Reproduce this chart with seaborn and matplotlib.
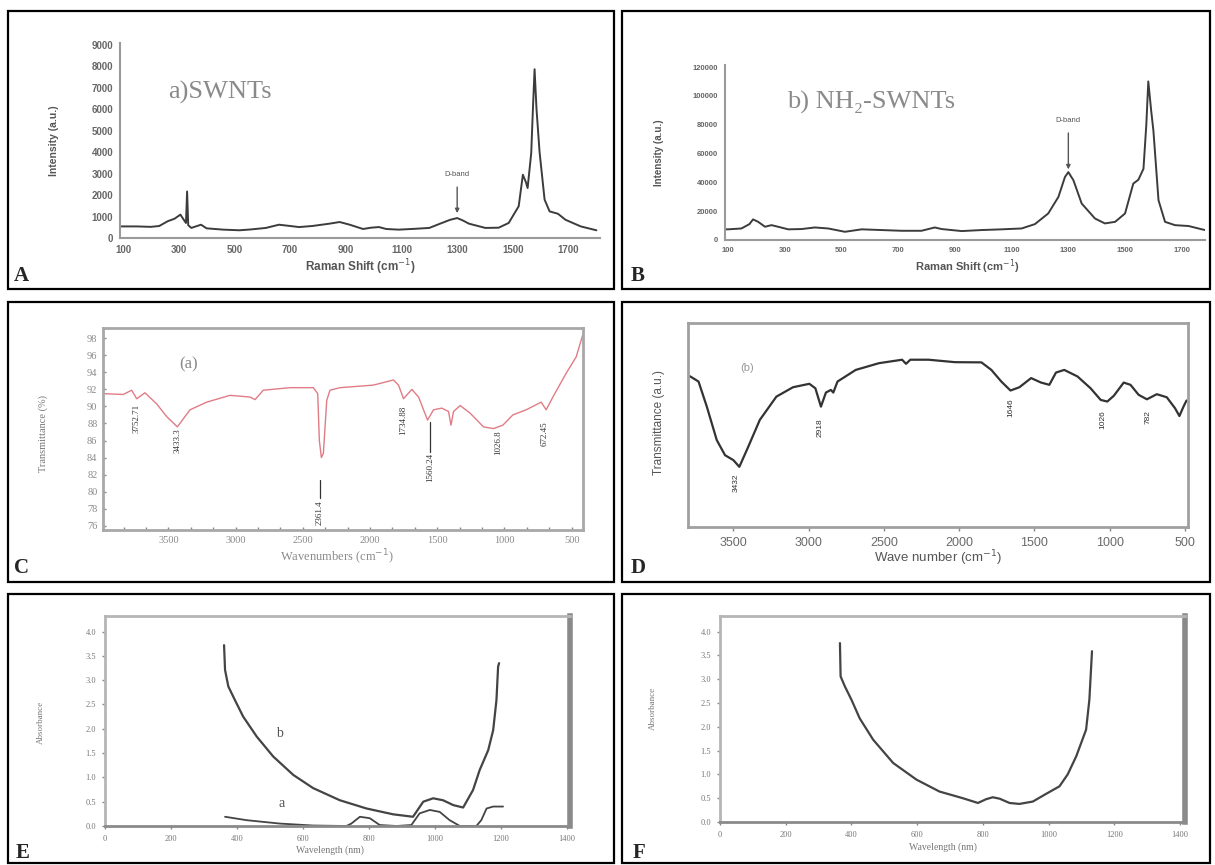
import numpy as np
import seaborn as sns
import matplotlib
matplotlib.use('Agg')
import matplotlib.pyplot as plt
from matplotlib.patches import Rectangle
from matplotlib.ticker import AutoMinorLocator

W, H = 1215, 865

## Panel A: Raman spectrum of SWNTs
raman_a_shift = [89, 150, 200, 230, 260, 285, 306, 318, 326, 330, 334, 345, 380, 400, 460, 518,
                 560, 613, 660, 700, 732, 780, 842, 878, 914, 962, 990, 1019, 1045, 1090, 1150,
                 1200, 1245, 1275, 1300, 1320, 1342, 1401, 1449, 1485, 1521, 1536, 1547, 1553,
                 1566, 1572, 1578, 1585, 1596, 1614, 1632, 1662, 1689, 1744, 1800]
raman_a_int = [540, 540, 520, 560, 780, 900, 1090, 850, 700, 2170, 600, 470, 620, 450, 390, 360,
               400, 470, 620, 560, 510, 560, 670, 745, 620, 420, 480, 510, 420, 390, 430,
               470, 700, 850, 930, 820, 670, 470, 480, 700, 1480, 2950, 2600, 2330,
               3960, 6000, 7870, 6000, 4000, 1790, 1240, 1130, 850, 540, 360]
raman_a_ticks_x = [100, 300, 500, 700, 900, 1100, 1300, 1500, 1700]
raman_a_ticks_y = [0, 1000, 2000, 3000, 4000, 5000, 6000, 7000, 8000, 9000]

## Panel B: Raman spectrum of NH2-SWNTs
raman_b_shift = [89, 100, 147, 175, 188, 206, 230, 253, 276, 312, 359, 406, 453, 512, 571, 641,
                 712, 782, 829, 853, 924, 994, 1065, 1135, 1182, 1229, 1265, 1288, 1300, 1318,
                 1347, 1394, 1429, 1465, 1500, 1529, 1547, 1565, 1575, 1582, 1592, 1600, 1618,
                 1641, 1676, 1724, 1771, 1785]
raman_b_int = [7400, 7400, 8000, 11000, 14300, 12600, 9200, 10300, 9200, 7400, 7600, 8700, 8000,
               5700, 7400, 6900, 6400, 6400, 8700, 7600, 6200, 6900, 7400, 8000, 11000, 18400,
               29900, 43700, 47100, 41400, 25300, 14900, 11500, 12600, 18400, 39100, 41800,
               49400, 80000, 110000, 90000, 75900, 27600, 12600, 10300, 9700, 7400, 6800]
raman_b_ticks_y = [0, 20000, 40000, 60000, 80000, 100000, 120000]

## Panel C: FTIR of SWNTs (a)
ftir_a_wn = [3986, 3835, 3773, 3735, 3674, 3587, 3512, 3433, 3339, 3215, 3041, 2893, 2855, 2794,
             2595, 2422, 2389, 2377, 2362, 2347, 2322, 2298, 2223, 1975, 1826, 1788, 1751, 1689,
             1639, 1602, 1572, 1528, 1466, 1416, 1398, 1379, 1329, 1255, 1156, 1082, 1012, 938,
             839, 727, 690, 640, 541, 467, 416]
ftir_a_t = [91.5, 91.4, 91.9, 90.9, 91.6, 90.3, 88.8, 87.6, 89.6, 90.5, 91.3, 91.1, 90.8, 91.9,
            92.2, 92.2, 91.5, 86.0, 84.0, 84.5, 90.7, 91.9, 92.2, 92.5, 93.1, 92.5, 90.9, 92.0,
            91.1, 89.6, 88.4, 89.6, 89.8, 89.4, 87.8, 89.4, 90.1, 89.2, 87.6, 87.4, 87.8, 89.0,
            89.6, 90.5, 89.6, 91.1, 93.9, 95.8, 98.5]
ftir_a_ticks_x = [3500, 3000, 2500, 2000, 1500, 1000, 500]
ftir_a_ticks_y = [76, 78, 80, 82, 84, 86, 88, 90, 92, 94, 96, 98]
ftir_a_peaks = ['3752.71', '3433.3', '2361.4', '1734.88', '1560.24', '1026.8', '672.45']
ftir_a_peak_x = [3735, 3433, 2372, 1752, 1554, 1046, 699]
ftir_a_peak_top = [90.3, 87.4, 79.0, 90.1, 84.5, 87.2, 88.2]

## Panel D: FTIR of NH2-SWNTs (b)
ftir_b_wn = [3801, 3786, 3731, 3676, 3610, 3555, 3500, 3460, 3401, 3324, 3214, 3104, 2995, 2955,
             2918, 2885, 2852, 2836, 2808, 2687, 2533, 2379, 2353, 2324, 2203, 2028, 1852, 1786,
             1720, 1659, 1600, 1522, 1456, 1401, 1357, 1302, 1214, 1127, 1060, 1016, 973, 907,
             862, 808, 753, 687, 621, 566, 537, 510, 490]
ftir_b_t = [74.0, 73.8, 71.3, 59.0, 42.6, 35.2, 32.8, 29.5, 39.3, 52.5, 63.9, 68.5, 70.2, 68.0,
            59.0, 65.9, 67.2, 65.9, 71.3, 77.0, 80.3, 82.0, 80.0, 82.0, 82.0, 80.8, 80.7, 77.0,
            71.3, 66.9, 68.5, 73.0, 70.8, 69.7, 75.7, 77.0, 73.8, 68.0, 62.3, 61.5, 64.3, 70.8,
            69.7, 64.8, 62.6, 65.1, 63.6, 58.2, 54.4, 59.0, 62.0]
ftir_b_ticks_x = [3500, 3000, 2500, 2000, 1500, 1000, 500]
ftir_b_peaks = ['3432', '2918', '1646', '1026', '782']
ftir_b_peak_x = [3478, 2922, 1658, 1043, 742]
ftir_b_peak_top = [26.2, 53.3, 63.1, 57.4, 57.4]

## Panel E: UV-vis-NIR, curves a and b
uv_b_nm = [361, 364, 374, 394, 419, 460, 510, 571, 631, 712, 793, 874, 934, 944, 965, 995, 1025,
           1056, 1086, 1116, 1136, 1162, 1177, 1187, 1192, 1195]
uv_b_abs = [3.72, 3.21, 2.87, 2.59, 2.25, 1.84, 1.43, 1.05, 0.78, 0.53, 0.36, 0.24, 0.19, 0.29,
            0.50, 0.57, 0.53, 0.43, 0.38, 0.74, 1.15, 1.56, 1.97, 2.59, 3.28, 3.35]
uv_a_nm = [364, 429, 530, 631, 732, 747, 773, 803, 833, 884, 929, 954, 985, 1015, 1045, 1076,
           1126, 1141, 1157, 1177, 1207]
uv_a_abs = [0.19, 0.12, 0.05, 0.01, 0.0, 0.05, 0.19, 0.16, 0.02, 0.0, 0.02, 0.26, 0.33, 0.29,
            0.12, 0.0, 0.0, 0.12, 0.36, 0.40, 0.40]
uv_ticks_x = [0, 200, 400, 600, 800, 1000, 1200, 1400]
uv_ticks_y = [0.0, 0.5, 1.0, 1.5, 2.0, 2.5, 3.0, 3.5, 4.0]

## Panel F: UV-vis-NIR, single curve
uv_f_nm = [365, 367, 380, 400, 425, 466, 527, 598, 668, 739, 785, 810, 830, 851, 881, 911, 952,
           992, 1033, 1058, 1084, 1114, 1124, 1132]
uv_f_abs = [3.76, 3.06, 2.85, 2.57, 2.18, 1.73, 1.24, 0.89, 0.64, 0.50, 0.40, 0.48, 0.52, 0.49,
            0.40, 0.38, 0.43, 0.59, 0.75, 1.00, 1.38, 1.94, 2.57, 3.59]

SERIF = ['Liberation Serif', 'DejaVu Serif']
SANS = ['Liberation Sans', 'DejaVu Sans']

sns.set_theme(style='white')
plt.rcParams['font.family'] = SANS

fig = plt.figure(figsize=(W / 100, H / 100), dpi=100)


def axes_px(left, top, right, bottom):
    return fig.add_axes([left / W, 1 - bottom / H, (right - left) / W, (bottom - top) / H])


def label_font(ax, family, size, color, weight='normal'):
    for t in ax.get_xticklabels() + ax.get_yticklabels():
        t.set_family(family)
        t.set_fontsize(size)
        t.set_color(color)
        t.set_fontweight(weight)


## panel frames and letters
boxes = [(8, 11, 614, 289), (622, 11, 1210, 289), (8, 302, 614, 582),
         (622, 302, 1210, 582), (8, 594, 614, 863), (622, 594, 1210, 863)]
letters = ['A', 'B', 'C', 'D', 'E', 'F']
letter_pos = [(14, 281), (631, 281), (14, 573), (631, 573), (16, 858), (633, 858)]
for (l, t, r, b), letter, (lx, ly) in zip(boxes, letters, letter_pos):
    fig.add_artist(Rectangle((l / W, 1 - b / H), (r - l) / W, (b - t) / H, fill=False,
                             edgecolor='black', linewidth=1.6, transform=fig.transFigure))
    fig.text(lx / W, 1 - ly / H, letter, family=SERIF, fontsize=15, fontweight='bold',
             va='baseline', ha='left')

## --- A ---
ax = axes_px(120, 43, 600, 238)
sns.lineplot(x=raman_a_shift, y=raman_a_int, ax=ax, color='#3c3c3c', lw=1.4,
             sort=False, estimator=None)
ax.set_xlim(89, 1813)
ax.set_ylim(0, 9093)
ax.set_xticks(raman_a_ticks_x)
ax.set_yticks(raman_a_ticks_y)
sns.despine(ax=ax)
for s in ['left', 'bottom']:
    ax.spines[s].set_color('#9a9a9a')
    ax.spines[s].set_linewidth(1.5)
ax.tick_params(length=2, width=1, color='#9a9a9a', pad=3)
label_font(ax, SANS, 7, '#666666', 'bold')
ax.set_xlabel('Raman Shift (cm$^{-1}$)', fontsize=8.5, fontweight='bold', color='#555555', va='center')
ax.set_ylabel('Intensity (a.u.)', fontsize=7.5, fontweight='bold', color='#555555', va='center')
ax.xaxis.set_label_coords(0.5, -0.149)
ax.yaxis.set_label_coords(-0.1375, 0.5)
ax.text(262, 6800, 'a)SWNTs', family=SERIF, fontsize=19, color='#8a8a8a', va='center')
ax.annotate('D-band', xy=(1300, 1160), xytext=(1300, 2950), ha='center', va='center',
            fontsize=5.5, color='#555555',
            arrowprops=dict(arrowstyle='-|>', color='#555555', lw=1, mutation_scale=6,
                            shrinkA=4, shrinkB=0))

## --- B ---
ax = axes_px(725, 65, 1205, 240)
sns.lineplot(x=raman_b_shift, y=raman_b_int, ax=ax, color='#3c3c3c', lw=1.4,
             sort=False, estimator=None)
ax.set_xlim(89, 1782)
ax.set_ylim(0, 121400)
ax.set_xticks(raman_a_ticks_x)
ax.set_yticks(raman_b_ticks_y)
sns.despine(ax=ax)
for s in ['left', 'bottom']:
    ax.spines[s].set_color('#9a9a9a')
    ax.spines[s].set_linewidth(1.5)
ax.tick_params(length=2, width=1, color='#9a9a9a', pad=3)
label_font(ax, SANS, 5.5, '#666666', 'bold')
ax.set_xlabel('Raman Shift (cm$^{-1}$)', fontsize=8, fontweight='bold', color='#555555', va='center')
ax.set_ylabel('Intensity (a.u.)', fontsize=7, fontweight='bold', color='#555555', va='center')
ax.xaxis.set_label_coords(0.504, -0.154)
ax.yaxis.set_label_coords(-0.1375, 0.5)
ax.text(308, 95700, 'b) NH\u2082-SWNTs', family=SERIF, fontsize=19, color='#8a8a8a', va='center')
ax.annotate('D-band', xy=(1300, 49000), xytext=(1300, 82800), ha='center', va='center',
            fontsize=5.5, color='#555555',
            arrowprops=dict(arrowstyle='-|>', color='#555555', lw=1, mutation_scale=6,
                            shrinkA=4, shrinkB=0))

## --- C ---
ax = axes_px(103, 328, 583, 530)
sns.lineplot(x=ftir_a_wn, y=ftir_a_t, ax=ax, color='#e07c86', lw=1.0,
             sort=False, estimator=None)
ax.set_xlim(3986, 416)
ax.set_ylim(75.5, 99.2)
ax.set_xticks(ftir_a_ticks_x)
ax.set_yticks(ftir_a_ticks_y)
ax.xaxis.set_minor_locator(AutoMinorLocator(3))
for s in ax.spines.values():
    s.set_color('#a8a8a8')
    s.set_linewidth(2)
ax.tick_params(which='both', direction='in', length=2, width=1, color='#888888', pad=4,
               bottom=True, left=True)
label_font(ax, SERIF, 7.5, '#8a8a8a')
ax.set_xlabel('Wavenumbers (cm$^{-1}$)', family=SERIF, fontsize=9, color='#8a8a8a', va='center')
ax.set_ylabel('Transmittance (%)', family=SERIF, fontsize=7.5, color='#777777', va='center')
ax.xaxis.set_label_coords(0.4875, -0.134)
ax.yaxis.set_label_coords(-0.125, 0.48)
ax.text(3346, 94.9, '(a)', family=SERIF, fontsize=12, color='#8a8a8a', ha='center', va='center')
for lab, px, top in zip(ftir_a_peaks, ftir_a_peak_x, ftir_a_peak_top):
    ax.text(px, top, lab, rotation=90, ha='center', va='top', family=SERIF, fontsize=6.5,
            color='#333333')
ax.plot([2372, 2372], [81.4, 79.2], color='#333333', lw=0.9)
ax.plot([1554, 1554], [88.2, 84.7], color='#333333', lw=0.9)

## --- D ---
ax = axes_px(688, 323, 1188, 527)
sns.lineplot(x=ftir_b_wn, y=ftir_b_t, ax=ax, color='#333333', lw=1.6,
             sort=False, estimator=None)
ax.set_xlim(3801, 480)
ax.set_ylim(0, 100)
ax.set_xticks(ftir_b_ticks_x)
ax.set_yticks([])
for s in ax.spines.values():
    s.set_color('#a0a0a0')
    s.set_linewidth(2)
ax.tick_params(axis='x', direction='out', length=3, width=1, color='#888888', pad=4, bottom=True)
label_font(ax, SANS, 9, '#6a6a6a')
ax.set_xlabel('Wave number (cm$^{-1}$)', fontsize=9.5, color='#555555', va='center')
ax.set_ylabel('Transmittance (a.u.)', fontsize=8.5, color='#555555', va='center')
ax.xaxis.set_label_coords(0.5, -0.152)
ax.yaxis.set_label_coords(-0.058, 0.51)
ax.text(3409, 78, '(b)', fontsize=8, color='#999999', ha='center', va='center')
for lab, px, top in zip(ftir_b_peaks, ftir_b_peak_x, ftir_b_peak_top):
    ax.text(px, top, lab, rotation=90, ha='center', va='top', fontsize=6, color='#333333')

## --- E ---
ax = axes_px(105, 616, 570, 826)
sns.lineplot(x=uv_b_nm, y=uv_b_abs, ax=ax, color='#444444', lw=1.6, sort=False, estimator=None)
sns.lineplot(x=uv_a_nm, y=uv_a_abs, ax=ax, color='#444444', lw=1.3, sort=False, estimator=None)
ax.set_xlim(0, 1410)
ax.set_ylim(0, 4.32)
ax.set_xticks(uv_ticks_x)
ax.set_yticks(uv_ticks_y)
ax.set_yticklabels([f'{v:.1f}' for v in uv_ticks_y])
for s in ax.spines.values():
    s.set_color('#b5b5b5')
    s.set_linewidth(2)
ax.spines['bottom'].set_color('#8a8a8a')
ax.spines['right'].set_color('#8a8a8a')
ax.spines['right'].set_linewidth(4)
ax.tick_params(direction='out', length=2.5, width=1, color='#888888', pad=4, bottom=True, left=True)
label_font(ax, SERIF, 6, '#777777')
ax.set_xlabel('Wavelength (nm)', family=SERIF, fontsize=7, color='#777777', va='center')
ax.set_ylabel('Absorbance', family=SERIF, fontsize=6.5, color='#777777', va='center')
ax.xaxis.set_label_coords(0.484, -0.114)
ax.yaxis.set_label_coords(-0.138, 0.495)
ax.text(530, 1.9, 'b', family=SERIF, fontsize=10, color='#555555', ha='center', va='center')
ax.text(535, 0.47, 'a', family=SERIF, fontsize=10, color='#555555', ha='center', va='center')

## --- F ---
ax = axes_px(720, 616, 1185, 822)
sns.lineplot(x=uv_f_nm, y=uv_f_abs, ax=ax, color='#444444', lw=1.6, sort=False, estimator=None)
ax.set_xlim(0, 1415)
ax.set_ylim(0, 4.33)
ax.set_xticks(uv_ticks_x)
ax.set_yticks(uv_ticks_y)
ax.set_yticklabels([f'{v:.1f}' for v in uv_ticks_y])
for s in ax.spines.values():
    s.set_color('#b5b5b5')
    s.set_linewidth(2)
ax.spines['bottom'].set_color('#8a8a8a')
ax.spines['right'].set_color('#8a8a8a')
ax.spines['right'].set_linewidth(4)
ax.tick_params(direction='out', length=2.5, width=1, color='#888888', pad=4, bottom=True, left=True)
label_font(ax, SERIF, 6, '#777777')
ax.set_xlabel('Wavelength (nm)', family=SERIF, fontsize=7, color='#777777', va='center')
ax.set_ylabel('Absorbance', family=SERIF, fontsize=6.5, color='#777777', va='center')
ax.xaxis.set_label_coords(0.48, -0.121)
ax.yaxis.set_label_coords(-0.144, 0.553)

fig.savefig('out.png', dpi=100, facecolor='white')
plt.close(fig)
